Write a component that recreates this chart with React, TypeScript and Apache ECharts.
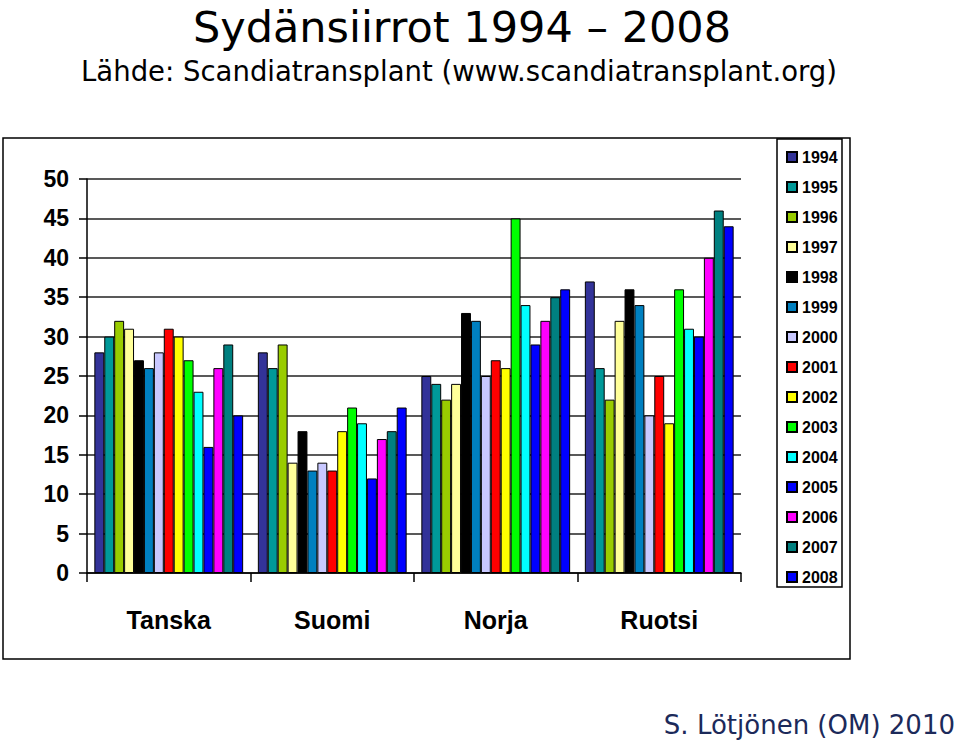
import React, { useEffect, useRef } from "react";
import * as echarts from "echarts";

const categories = ["Tanska", "Suomi", "Norja", "Ruotsi"];
const years = ["1994", "1995", "1996", "1997", "1998", "1999", "2000", "2001", "2002", "2003", "2004", "2005", "2006", "2007", "2008"];
const tanska = [28, 30, 32, 31, 27, 26, 28, 31, 30, 27, 23, 16, 26, 29, 20];
const suomi = [28, 26, 29, 14, 18, 13, 14, 13, 18, 21, 19, 12, 17, 18, 21];
const norja = [25, 24, 22, 24, 33, 32, 25, 27, 26, 45, 34, 29, 32, 35, 36];
const ruotsi = [37, 26, 22, 32, 36, 34, 20, 25, 19, 36, 31, 30, 40, 46, 44];
const colors = ["#333399", "#009999", "#99CC00", "#FFFF99", "#000000", "#0080C0", "#C8C8FF", "#FF0000", "#FFFF00", "#00FF00", "#00FFFF", "#0000FF", "#FF00FF", "#008080", "#0000FF"];
const yTicks = [0, 5, 10, 15, 20, 25, 30, 35, 40, 45, 50];
const titleText = "Sydänsiirrot 1994 – 2008";
const subtitleText = "Lähde: Scandiatransplant (www.scandiatransplant.org)";
const creditText = "S. Lötjönen (OM) 2010";

export default function App() {
  const ref = useRef<HTMLDivElement>(null);
  useEffect(() => {
    if (!ref.current) return;
    const chart = echarts.init(ref.current, null, { renderer: "svg" });
    const byCountry = [tanska, suomi, norja, ruotsi];
    const series = years.map((y, i) => ({
      name: y,
      type: "bar",
      data: byCountry.map((arr) => arr[i]),
      barGap: "0%",
      barCategoryGap: "9%",
      itemStyle: { color: colors[i], borderColor: "#000", borderWidth: 1 },
    }));
    const sans = "'Liberation Sans', Arial, sans-serif";
    const comic = "'DejaVu Sans', 'Open Sans', sans-serif";
    chart.setOption({
      animation: false,
      backgroundColor: "#fff",
      grid: { left: 87, right: 219, top: 179, bottom: 176 },
      xAxis: {
        type: "category",
        data: categories,
        axisLine: { lineStyle: { color: "#000", width: 1.5 } },
        axisTick: { show: true, length: 9, lineStyle: { color: "#000", width: 1.5 } },
        axisLabel: { fontFamily: sans, fontWeight: "bold", fontSize: 25, color: "#000", margin: 34 },
      },
      yAxis: {
        type: "value",
        min: yTicks[0],
        max: yTicks[yTicks.length - 1],
        interval: 5,
        axisLine: { show: true, lineStyle: { color: "#000", width: 1.5 } },
        axisTick: { show: true, length: 8, lineStyle: { color: "#000", width: 1.5 } },
        splitLine: { lineStyle: { color: "#222", width: 1.5 } },
        axisLabel: { fontFamily: sans, fontWeight: "bold", fontSize: 23, color: "#000", margin: 18 },
      },
      legend: {
        orient: "vertical",
        left: 781,
        top: 143,
        itemWidth: 10,
        itemHeight: 10,
        itemGap: 12,
        itemTextGap: 5,
        icon: "rect",
        textStyle: { fontFamily: sans, fontWeight: "bold", fontSize: 16, color: "#000", lineHeight: 18 },
        data: years,
      },
      graphic: [
        { type: "rect", shape: { x: 3, y: 138, width: 847, height: 521 }, style: { fill: "none", stroke: "#000", lineWidth: 1.5 }, z: -1 },
        { type: "rect", shape: { x: 777, y: 139, width: 65, height: 448 }, style: { fill: "none", stroke: "#000", lineWidth: 1.5 } },
        { type: "text", x: 462, y: 27, style: { text: titleText, font: `43px ${comic}`, fill: "#000", textAlign: "center", textVerticalAlign: "middle" } },
        { type: "text", x: 459, y: 71, style: { text: subtitleText, font: `27.5px ${comic}`, fill: "#000", textAlign: "center", textVerticalAlign: "middle" } },
        { type: "text", x: 955, y: 725, style: { text: creditText, font: `26px ${comic}`, fill: "#1c2a5a", textAlign: "right", textVerticalAlign: "middle" } },
      ],
      series,
    });
    return () => chart.dispose();
  }, []);
  return <div ref={ref} style={{ position: "fixed", left: 0, top: 0, width: 960, height: 749 }} />;
}
